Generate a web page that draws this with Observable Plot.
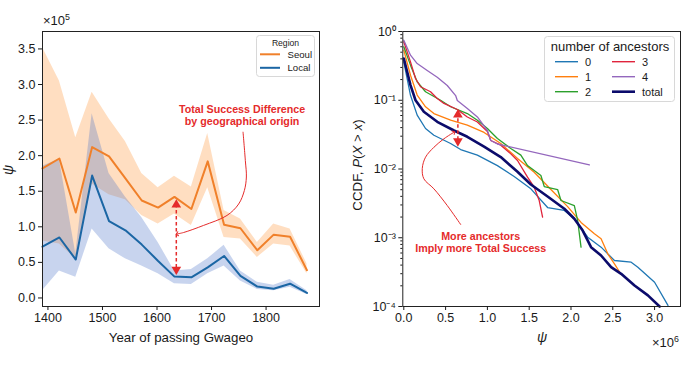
<!DOCTYPE html>
<html><head><meta charset="utf-8">
<script src="https://cdn.jsdelivr.net/npm/d3@7"></script>
<script src="https://cdn.jsdelivr.net/npm/@observablehq/plot@0.6"></script>
<style>
body{margin:0;background:#fff;font-family:"Liberation Sans",Arial,Helvetica,sans-serif;}
#wrap{position:relative;width:700px;height:371px;overflow:hidden;background:#fff;}
.abs{position:absolute;white-space:nowrap;color:#1a1a1a;line-height:1;}
.panel{position:absolute;top:0;}
sup{font-size:0.68em;vertical-align:0;position:relative;top:-0.6em;}
#legs{position:absolute;left:0;top:0;}
</style></head><body><div id="wrap"></div>
<script>
// ---------- Left panel data (values ×10^5) ----------
const years    = [1390, 1421, 1451, 1481, 1512, 1542, 1572, 1602, 1632, 1663, 1693, 1723, 1753, 1784, 1814, 1844, 1875];
const seoul    = [1.82, 1.96, 1.20, 2.12, 1.99, 1.68, 1.37, 1.27, 1.42, 1.25, 1.92, 1.03, 0.98, 0.67, 0.89, 0.86, 0.39];
const seoulLo  = [0.80, 0.76, 0.55, 1.60, 1.45, 1.38, 1.16, 1.04, 1.18, 1.02, 1.55, 0.85, 0.83, 0.57, 0.76, 0.73, 0.34];
const seoulHi  = [3.52, 3.05, 2.25, 2.89, 2.52, 2.20, 1.75, 1.55, 1.71, 1.56, 2.31, 1.23, 1.11, 0.78, 1.04, 0.97, 0.48];
const local    = [0.72, 0.85, 0.54, 1.72, 1.08, 0.95, 0.75, 0.52, 0.30, 0.29, 0.43, 0.59, 0.31, 0.16, 0.13, 0.20, 0.07];
const localLo  = [0.10, 0.38, 0.29, 0.97, 0.69, 0.55, 0.45, 0.34, 0.20, 0.19, 0.34, 0.45, 0.24, 0.12, 0.10, 0.15, 0.05];
const localHi  = [1.85, 1.95, 0.62, 2.59, 1.75, 1.42, 1.13, 0.78, 0.38, 0.40, 0.55, 0.74, 0.38, 0.22, 0.18, 0.26, 0.10];
const xTicksL  = [1400, 1500, 1600, 1700, 1800];
const yTicksL  = [0, 0.5, 1.0, 1.5, 2.0, 2.5, 3.0, 3.5];
const regions  = ["Seoul", "Local"];

// annotation (left) in data coordinates
const noteLText  = "Total Success Difference\nby geographical origin";
const noteLYear  = 1756, noteLVal = 2.565;
const curveLYear = [1757.8, 1762, 1763.9, 1760.2, 1749.7, 1728.4, 1685.5, 1648.8, 1637];
const curveLVal  = [2.33, 1.93, 1.70, 1.51, 1.32, 1.16, 1.02, 0.92, 0.90];
const diffLYear  = 1635.4, diffLTop = 1.37, diffLBottom = 0.34;

// ---------- Right panel data (psi ×10^6, CCDF) ----------
const psi0  = [0, 0.08, 0.16, 0.26, 0.36, 0.56, 0.68, 0.88, 1.12, 1.32, 1.52, 1.72, 1.92, 2.04, 2.20, 2.36, 2.52, 2.72, 2.80, 3.00, 3.16];
const ccdf0 = [0.362, 0.118, 0.0607, 0.0388, 0.0310, 0.0235, 0.0192, 0.0159, 0.0112, 0.00778, 0.00515, 0.00275, 0.00250, 0.00189, 0.00102, 0.00073, 0.000467, 0.000441, 0.000372, 0.000225, 0.000104];
const psi1  = [0, 0.08, 0.16, 0.26, 0.36, 0.56, 0.76, 0.96, 1.16, 1.36, 1.56, 1.76, 1.96, 2.12, 2.28, 2.36, 2.44, 2.52, 2.60];
const ccdf1 = [0.535, 0.231, 0.119, 0.0804, 0.0641, 0.0513, 0.0434, 0.0340, 0.0235, 0.0142, 0.00898, 0.00503, 0.00284, 0.00167, 0.00114, 0.000964, 0.000583, 0.000417, 0.000292];
const psi2  = [0, 0.08, 0.16, 0.26, 0.44, 0.56, 0.76, 0.88, 1.00, 1.12, 1.28, 1.40, 1.48, 1.56, 1.64, 1.68, 1.84, 1.88, 2.04, 2.08, 2.12];
const ccdf2 = [0.599, 0.324, 0.186, 0.133, 0.100, 0.0804, 0.0641, 0.0513, 0.0388, 0.0278, 0.0199, 0.0159, 0.0112, 0.0095, 0.00804, 0.00556, 0.00503, 0.00348, 0.00294, 0.00178, 0.00073];
const psi3  = [0, 0.08, 0.14, 0.20, 0.32, 0.40, 0.48, 0.64, 0.76, 0.88, 1.00, 1.04, 1.16, 1.28, 1.36, 1.48, 1.56, 1.62, 1.66];
const ccdf3 = [0.708, 0.362, 0.207, 0.157, 0.133, 0.106, 0.0898, 0.0734, 0.0571, 0.0483, 0.0351, 0.0260, 0.0222, 0.0166, 0.0133, 0.0076, 0.00543, 0.00348, 0.00199];
const psi4  = [0, 0.08, 0.16, 0.28, 0.40, 0.52, 0.62, 0.64, 0.76, 0.88, 1.00, 1.04, 1.12, 2.22];
const ccdf4 = [0.747, 0.452, 0.342, 0.271, 0.216, 0.164, 0.117, 0.0991, 0.0759, 0.0571, 0.0363, 0.0260, 0.0231, 0.0115];
const psiT  = [0, 0.08, 0.14, 0.24, 0.40, 0.60, 0.76, 0.96, 1.16, 1.36, 1.52, 1.72, 1.92, 2.04, 2.14, 2.24, 2.36, 2.48, 2.60, 2.76, 2.92, 3.06];
const ccdfT = [0.405, 0.166, 0.100, 0.0679, 0.0486, 0.0363, 0.0294, 0.0212, 0.0149, 0.00912, 0.00596, 0.00398, 0.00264, 0.00189, 0.00127, 0.00073, 0.000552, 0.000373, 0.000299, 0.000202, 0.000145, 0.0001];
const seriesNames = ["0", "1", "2", "3", "4", "total"];
const xTicksR = [0, 0.5, 1.0, 1.5, 2.0, 2.5, 3.0];
const yTicksR = [1e-4, 1e-3, 1e-2, 1e-1, 1];
const yTickLabelsR = ["10⁻⁴", "10⁻³", "10⁻²", "10⁻¹", "10⁰"];

// annotation (right)
const noteRText = "More ancestors\nImply more Total Success";
const noteRPsi = 0.92, noteRCcdf = 0.00087;
const curveRPsi  = [0.68, 0.52, 0.36, 0.24, 0.221, 0.26, 0.36, 0.48, 0.60];
const curveRCcdf = [0.00156, 0.00294, 0.00515, 0.0072, 0.01017, 0.01485, 0.0207, 0.0275, 0.0343];
const diffRPsi = 0.647, diffRTop = 0.067, diffRBottom = 0.0233;

// ---------- build ----------
const RED = "#e52b2b";
const ORANGE = "#f0802a", BLUE = "#1b66a4";
const FONT = "'Liberation Sans', Arial, Helvetica, sans-serif";
const tableL = years.map((y, i) => ({year: y, seoul: seoul[i], seoulLo: seoulLo[i], seoulHi: seoulHi[i], local: local[i], localLo: localLo[i], localHi: localHi[i]}));
const curveL = curveLYear.map((y, i) => ({year: y, v: curveLVal[i]}));
const diffL = [{year: diffLYear, top: diffLTop, bottom: diffLBottom}];

const left = Plot.plot({
  width: 350, height: 371,
  marginLeft: 42, marginRight: 31, marginTop: 31, marginBottom: 65,
  style: {fontFamily: FONT, fontSize: "12.5px", color: "#1a1a1a", background: "transparent", overflow: "visible"},
  x: {domain: [1390, 1898]},
  y: {domain: [-0.12, 3.745]},
  marks: [
    Plot.areaY(tableL, {x: "year", y1: "seoulLo", y2: "seoulHi", fill: "#ff7f0e", fillOpacity: 0.26}),
    Plot.areaY(tableL, {x: "year", y1: "localLo", y2: "localHi", fill: "#4a72c8", fillOpacity: 0.3}),
    Plot.line(tableL, {x: "year", y: "seoul", stroke: ORANGE, strokeWidth: 2}),
    Plot.line(tableL, {x: "year", y: "local", stroke: BLUE, strokeWidth: 2}),
    Plot.ruleX(diffL, {x: "year", y1: d => d.bottom + 0.08, y2: d => d.top - 0.08, stroke: RED, strokeWidth: 1.5, strokeDasharray: "3.5,2.5"}),
    Plot.dot(diffL, {x: "year", y: d => d.top - 0.06, symbol: "triangle", r: 3.6, fill: RED, stroke: "none"}),
    Plot.dot(diffL, {x: "year", y: d => d.bottom + 0.06, symbol: "triangle", rotate: 180, r: 3.6, fill: RED, stroke: "none"}),
    Plot.line(curveL, {x: "year", y: "v", curve: "catmull-rom", stroke: RED, strokeWidth: 1, markerEnd: "arrow"}),
    Plot.text([noteLText], {x: () => noteLYear, y: () => noteLVal, text: d => d, fill: RED, fontWeight: "bold", fontSize: 10.7, lineHeight: 1.12}),
    Plot.frame({stroke: "#222", strokeWidth: 1}),
    Plot.axisX({ticks: xTicksL, tickFormat: d => String(d), tickSize: 4, tickPadding: 3, label: null}),
    Plot.axisY({ticks: yTicksL, tickFormat: d3.format(".1f"), tickSize: 4, tickPadding: 3, label: null})
  ]
});

const ser = [[psi0, ccdf0], [psi1, ccdf1], [psi2, ccdf2], [psi3, ccdf3], [psi4, ccdf4], [psiT, ccdfT]];
const colorsR = ["#1f77b4", "#ff7f0e", "#2ca02c", "#e0243c", "#9467bd", "#0b0b6b"];
const tableR = ser.flatMap(([xs, ys], k) => xs.map((x, i) => ({psi: x, ccdf: ys[i], n: seriesNames[k]})));
const curveR = curveRPsi.map((x, i) => ({psi: x, ccdf: curveRCcdf[i]}));
const diffR = [{psi: diffRPsi, top: diffRTop, bottom: diffRBottom}];
const minorR = [];
for (let e = -4; e < 0; e++) for (let m = 2; m <= 9; m++) minorR.push(m * Math.pow(10, e));

const right = Plot.plot({
  width: 350, height: 371,
  marginLeft: 52.3, marginRight: 20, marginTop: 31, marginBottom: 65,
  style: {fontFamily: FONT, fontSize: "12.5px", color: "#1a1a1a", background: "transparent", overflow: "visible"},
  x: {domain: [-0.012, 3.31]},
  y: {type: "log", domain: [1e-4, 1]},
  color: {domain: seriesNames, range: colorsR},
  marks: [
    Plot.line(tableR.filter(d => d.n !== "total"), {x: "psi", y: "ccdf", z: "n", stroke: "n", strokeWidth: 1.3}),
    Plot.line(tableR.filter(d => d.n === "total"), {x: "psi", y: "ccdf", stroke: "n", strokeWidth: 2.6}),
    Plot.ruleX(diffR, {x: "psi", y1: d => d.bottom * 1.12, y2: d => d.top / 1.12, stroke: RED, strokeWidth: 1.5, strokeDasharray: "3.5,2.5"}),
    Plot.dot(diffR, {x: "psi", y: d => d.top / 1.09, symbol: "triangle", r: 3.6, fill: RED, stroke: "none"}),
    Plot.dot(diffR, {x: "psi", y: d => d.bottom * 1.09, symbol: "triangle", rotate: 180, r: 3.6, fill: RED, stroke: "none"}),
    Plot.line(curveR, {x: "psi", y: "ccdf", curve: "catmull-rom", stroke: RED, strokeWidth: 1, markerEnd: "arrow"}),
    Plot.text([noteRText], {x: () => noteRPsi, y: () => noteRCcdf, text: d => d, fill: RED, fontWeight: "bold", fontSize: 10.7, lineHeight: 1.2}),
    Plot.frame({stroke: "#222", strokeWidth: 1}),
    Plot.axisX({ticks: xTicksR, tickFormat: d3.format(".1f"), tickSize: 4, tickPadding: 3, label: null}),
    Plot.axisY({ticks: yTicksR, tickFormat: d => yTickLabelsR[yTicksR.indexOf(d)], tickSize: 4, tickPadding: 3, label: null}),
    Plot.axisY({ticks: minorR, tickFormat: () => "", tickSize: 2, label: null})
  ]
});

const wrap = document.getElementById("wrap");
left.classList.add("panel"); left.style.left = "0px";
right.classList.add("panel"); right.style.left = "350px";
wrap.appendChild(left); wrap.appendChild(right);

function add(html, css) {
  const d = document.createElement("div");
  d.className = "abs"; d.innerHTML = html; Object.assign(d.style, css); wrap.appendChild(d); return d;
}
// left labels
add("×10<sup>5</sup>", {left: "43px", top: "14px", fontSize: "13px"});
add("<i>ψ</i>", {left: "8px", top: "170px", fontSize: "14px", transform: "translate(-50%,-50%) rotate(-90deg)"});
add("Year of passing Gwageo", {left: "181px", top: "338px", fontSize: "13.3px", transform: "translate(-50%,-50%)"});
// right labels
add("CCDF, <i>P</i>(<i>X</i> &gt; <i>x</i>)", {left: "358px", top: "165px", fontSize: "13.3px", transform: "translate(-50%,-50%) rotate(-90deg)"});
add("<i>ψ</i>", {left: "542px", top: "337px", fontSize: "14px", transform: "translate(-50%,-50%)"});
add("×10<sup>6</sup>", {left: "652px", top: "336px", fontSize: "13px"});

// legends drawn as one overlay svg
const NS = "http://www.w3.org/2000/svg";
const svg = document.createElementNS(NS, "svg");
svg.setAttribute("id", "legs"); svg.setAttribute("width", 700); svg.setAttribute("height", 371);
wrap.appendChild(svg);
function el(tag, attrs, txt) {
  const e = document.createElementNS(NS, tag);
  for (const k in attrs) e.setAttribute(k, attrs[k]);
  if (txt != null) e.textContent = txt;
  svg.appendChild(e); return e;
}
// left legend
el("rect", {x: 256.5, y: 35.5, width: 58, height: 41, rx: 3, fill: "white", "fill-opacity": 0.85, stroke: "#d8d8d8"});
el("text", {x: 285.5, y: 45.5, "text-anchor": "middle", "font-size": 8.6, "font-family": FONT, fill: "#1a1a1a"}, "Region");
[ORANGE, BLUE].forEach((c, i) => {
  const y = 54.3 + i * 13.5;
  el("line", {x1: 260, x2: 280, y1: y, y2: y, stroke: c, "stroke-width": 2});
  el("text", {x: 287.5, y: y + 3.4, "font-size": 9.6, "font-family": FONT, fill: "#1a1a1a"}, regions[i]);
});
// right legend
el("rect", {x: 544.5, y: 36.5, width: 130, height: 65, rx: 3, fill: "white", "fill-opacity": 0.85, stroke: "#d8d8d8"});
el("text", {x: 610, y: 50.5, "text-anchor": "middle", "font-size": 13, "font-family": FONT, fill: "#1a1a1a"}, "number of ancestors");
seriesNames.forEach((n, k) => {
  const col = Math.floor(k / 3), row = k % 3;
  const x0 = col ? 612 : 555, y0 = 61.7 + row * 15;
  el("line", {x1: x0, x2: x0 + 23, y1: y0, y2: y0, stroke: colorsR[k], "stroke-width": n === "total" ? 2.6 : 1.4});
  el("text", {x: x0 + 30, y: y0 + 4, "font-size": 11, "font-family": FONT, fill: "#1a1a1a"}, n);
});
</script></body></html>
